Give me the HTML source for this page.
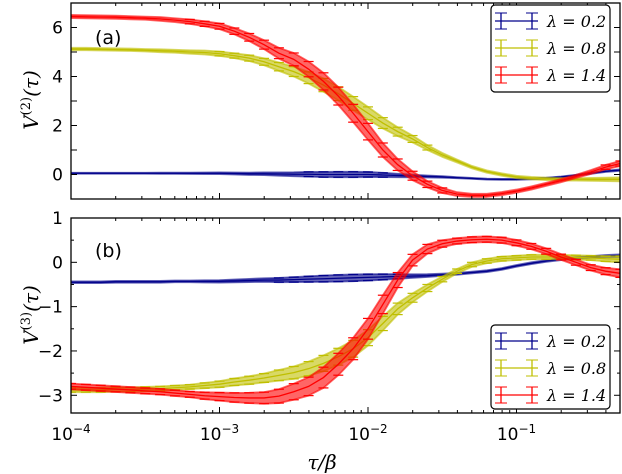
<!DOCTYPE html>
<html><head><meta charset="utf-8"><style>
body{margin:0;background:#fff;width:622px;height:474px;overflow:hidden}
svg{display:block}
text{font-family:"DejaVu Sans","Liberation Sans",sans-serif;fill:#000}
.m{font-family:"DejaVu Serif","Liberation Serif",serif;font-style:italic}
</style></head><body>
<svg id="chart" width="622" height="474"></svg>
<script>
const logX=[-4,-3.9,-3.8,-3.7,-3.6,-3.5,-3.4,-3.3,-3.2,-3.1,-3.0,-2.9,-2.8,-2.7,-2.6,-2.5,-2.4,-2.3,-2.2,-2.1,-2.0,-1.9,-1.8,-1.7,-1.6,-1.5,-1.4,-1.3,-1.2,-1.1,-1.0,-0.9,-0.8,-0.7,-0.6,-0.5,-0.4,-0.3];
const aBlue=[0.05,0.05,0.05,0.05,0.05,0.05,0.05,0.05,0.05,0.05,0.05,0.04,0.03,0.03,0.02,0.01,0.01,0,0,0,0,-0.02,-0.04,-0.06,-0.08,-0.1,-0.13,-0.16,-0.19,-0.2,-0.2,-0.18,-0.15,-0.1,-0.03,0.05,0.13,0.18];
const aYellow=[5.12,5.12,5.11,5.1,5.09,5.07,5.05,5.03,5.0,4.98,4.93,4.85,4.75,4.6,4.4,4.2,3.95,3.65,3.3,2.9,2.5,2.1,1.75,1.45,1.1,0.8,0.55,0.3,0.12,0,-0.1,-0.15,-0.18,-0.2,-0.2,-0.2,-0.2,-0.2];
const aRed=[6.45,6.44,6.43,6.42,6.4,6.38,6.35,6.3,6.24,6.15,6.05,5.85,5.6,5.3,4.95,4.7,4.3,3.8,3.2,2.5,1.75,1.0,0.4,-0.05,-0.4,-0.65,-0.8,-0.85,-0.85,-0.78,-0.68,-0.55,-0.4,-0.25,-0.08,0.1,0.3,0.45];
const bBlue=[-0.45,-0.45,-0.45,-0.44,-0.44,-0.44,-0.44,-0.43,-0.43,-0.43,-0.43,-0.42,-0.41,-0.4,-0.4,-0.39,-0.38,-0.37,-0.36,-0.35,-0.34,-0.33,-0.32,-0.31,-0.3,-0.28,-0.26,-0.23,-0.2,-0.15,-0.08,-0.02,0.03,0.07,0.1,0.12,0.14,0.15];
const bYellow=[-2.88,-2.88,-2.88,-2.87,-2.87,-2.86,-2.85,-2.83,-2.81,-2.78,-2.75,-2.7,-2.66,-2.61,-2.55,-2.49,-2.4,-2.28,-2.13,-1.95,-1.7,-1.38,-1.05,-0.8,-0.58,-0.38,-0.2,-0.05,0.03,0.08,0.1,0.12,0.12,0.12,0.11,0.1,0.08,0.07];
const bRed=[-2.8,-2.82,-2.84,-2.86,-2.88,-2.9,-2.92,-2.95,-2.98,-3.01,-3.03,-3.05,-3.06,-3.06,-3.02,-2.92,-2.8,-2.6,-2.3,-1.95,-1.5,-0.95,-0.4,0.05,0.3,0.42,0.48,0.51,0.52,0.5,0.44,0.36,0.25,0.12,0.0,-0.12,-0.2,-0.25];
const errA=[0.05,0.05,0.05,0.05,0.05,0.05,0.06,0.06,0.07,0.08,0.09,0.1,0.12,0.14,0.17,0.2,0.24,0.27,0.28,0.28,0.26,0.22,0.18,0.14,0.1,0.08,0.06,0.05,0.05,0.05,0.05,0.05,0.05,0.05,0.05,0.06,0.07,0.08];
const errB=[0.05,0.05,0.05,0.05,0.05,0.05,0.05,0.05,0.05,0.06,0.07,0.08,0.09,0.1,0.12,0.14,0.16,0.18,0.19,0.19,0.18,0.16,0.13,0.1,0.08,0.06,0.05,0.05,0.05,0.05,0.05,0.05,0.05,0.05,0.05,0.05,0.06,0.07];
const xTickLabels=["-4","-3","-2","-1"];
const aTicks=[0,2,4,6];
const bTicks=[1,0,-1,-2,-3];
const legendLabels=["0.2","0.8","1.4"];

const NS="http://www.w3.org/2000/svg";
const svg=document.getElementById('chart');
function el(t,a,p){const e=document.createElementNS(NS,t);for(const k in a)e.setAttribute(k,a[k]);(p||svg).appendChild(e);return e;}
const X0=71,X1=620;
const xs=v=>X0+(v+4)*148.5;
const panels=[
 {top:3,bot:199,min:-1,max:7,ticks:aTicks,series:[[aBlue,'#00008b',0.4],[aYellow,'#bfbf00',1],[aRed,'#ff0000',1.3]],err:errA,name:'a'},
 {top:218,bot:413,min:-3.4,max:1,ticks:bTicks,series:[[bBlue,'#00008b',0.4],[bYellow,'#bfbf00',1],[bRed,'#ff0000',1.3]],err:errB,name:'b'}
];
panels.forEach((P,pi)=>{
 const ys=v=>P.bot-(v-P.min)/(P.max-P.min)*(P.bot-P.top);
 const g=el('g',{});
 
 
 const clip=el('clipPath',{id:'c'+pi},g);el('rect',{x:X0,y:P.top,width:X1-X0,height:P.bot-P.top},clip);
 const sg=el('g',{'clip-path':'url(#c'+pi+')'},g);
 P.series.forEach((S,si)=>{
  const [vals,col,ef]=S;
  const ser=el('g',{},sg);
  
  
  let up='',dn='';
  vals.forEach((v,i)=>{const x=xs(logX[i]);up+=x+','+ys(v+P.err[i]*ef)+' ';dn=x+','+ys(v-P.err[i]*ef)+' '+dn;});
  el('polygon',{points:up+dn,fill:col,'fill-opacity':0.6,stroke:col,'stroke-width':1.8,'stroke-opacity':0.6,'stroke-linejoin':'round'},ser);
  vals.forEach((v,i)=>{
   const x=xs(logX[i]);const e=P.err[i]*ef;
   if(e*((P.bot-P.top)/(P.max-P.min))<2)return;
   el('line',{x1:x-5,x2:x+5,y1:ys(v-e),y2:ys(v-e),stroke:col,'stroke-width':1.2},ser);
   el('line',{x1:x-5,x2:x+5,y1:ys(v+e),y2:ys(v+e),stroke:col,'stroke-width':1.2},ser);
  });
  el('polyline',{points:vals.map((v,i)=>xs(logX[i])+','+ys(v)).join(' '),fill:'none',stroke:col,'stroke-width':1.3},ser);
 });
 el('rect',{x:X0,y:P.top,width:X1-X0,height:P.bot-P.top,fill:'none',stroke:'#000','stroke-width':1.3},g);
 for(let d=-4;d<=-1;d++){for(let k=1;k<=9;k++){const lv=d+Math.log10(k);const x=xs(lv);if(x>X1)continue;const L=k==1?6:3;
  el('line',{x1:x,x2:x,y1:P.bot,y2:P.bot-L,stroke:'#000'},g);el('line',{x1:x,x2:x,y1:P.top,y2:P.top+L,stroke:'#000'},g);}}
 const step=pi==0?1:0.5;
 for(let v=Math.ceil(P.min);v<=P.max;v+=step){const y=ys(v);
  el('line',{x1:X0,x2:X0+(Number.isInteger(v)?6:3),y1:y,y2:y,stroke:'#000'},g);el('line',{x1:X1,x2:X1-(Number.isInteger(v)?6:3),y1:y,y2:y,stroke:'#000'},g);}
 P.ticks.forEach(v=>{const t=el('text',{x:X0-8,y:ys(v)+6,'text-anchor':'end','font-size':17},g);t.textContent=v<0?'\u2212'+(-v):v;
  });
 const pl=el('text',{x:95,y:pi==0?44:257,'font-size':19},g);pl.textContent='('+P.name+')';
 
 const ly=pi==0?5:325;
 const lg=el('g',{},g);
 
 
 el('rect',{x:491,y:ly,width:119,height:pi==0?87:84,rx:4,fill:'#fff',stroke:'#000','stroke-width':1.2},lg);
 P.series.forEach((S,si)=>{const y=ly+16+si*27;const col=S[1];
  const en=el('g',{},lg);
  
  
  el('line',{x1:495,x2:538,y1:y,y2:y,stroke:col,'stroke-width':1.3},en);
  [501,532].forEach(x=>{el('line',{x1:x,x2:x,y1:y-8,y2:y+8,stroke:col,'stroke-width':1.3},en);});
  [[495,507],[526,538]].forEach(p=>{el('line',{x1:p[0],x2:p[1],y1:y-8,y2:y-8,stroke:col},en);el('line',{x1:p[0],x2:p[1],y1:y+8,y2:y+8,stroke:col},en);});
  const t=el('text',{x:547,y:y+6,'font-size':16,class:'m'},en);t.textContent='\u03bb = '+legendLabels[si];});
});
xTickLabels.forEach(s=>{const v=+s;const t=el('text',{x:xs(v),y:440,'text-anchor':'middle','font-size':17});
 
 t.textContent='10';const ts=el('tspan',{dy:-7,'font-size':12},t);ts.textContent='\u2212'+(-v);});
const xl=el('text',{x:322,y:469,'text-anchor':'middle','font-size':20,class:'m'});xl.textContent='\u03c4/\u03b2';

[['V',100,'2','y-axis-title-a'],['V',315,'3','y-axis-title-b']].forEach(a=>{
 const t=el('text',{transform:'translate(38,'+a[1]+') rotate(-90)','text-anchor':'middle','font-size':20,class:'m'});
 
 t.textContent='V';const s=el('tspan',{dy:-8,'font-size':13,style:'font-style:normal'},t);s.textContent='('+a[2]+')';
 const s2=el('tspan',{dy:8},t);s2.textContent='(\u03c4)';});
</script>
</body></html>
